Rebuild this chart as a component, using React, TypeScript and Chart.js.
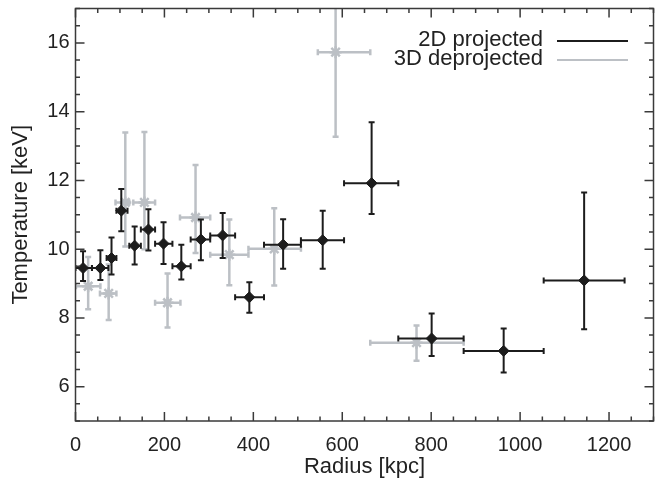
import { useEffect, useRef } from "react";
import { Chart, registerables } from "chart.js";

Chart.register(...registerables);

// ---- 2D projected (black diamonds) ----
const r2d = [17, 56, 81, 103, 133, 164, 198, 238, 282, 331, 391, 467, 556, 666, 801, 963, 1144];
const r2dLo = [0, 37, 70, 92, 121, 147, 179, 218, 259, 303, 359, 424, 507, 604, 726, 873, 1053];
const r2dHi = [37, 74, 92, 117, 147, 179, 218, 259, 303, 359, 424, 507, 604, 726, 873, 1053, 1235];
const t2d = [9.45, 9.45, 9.74, 11.12, 10.1, 10.57, 10.16, 9.5, 10.28, 10.4, 8.6, 10.13, 10.26, 11.92, 7.4, 7.04, 9.09];
const t2dLo = [9.07, 9.1, 9.26, 10.52, 9.55, 9.96, 9.57, 9.12, 9.68, 9.74, 8.15, 9.43, 9.43, 11.02, 6.89, 6.41, 7.67];
const t2dHi = [9.94, 9.97, 10.34, 11.75, 10.66, 11.16, 10.78, 10.13, 10.86, 11.05, 9.04, 10.87, 11.12, 13.69, 8.13, 7.69, 11.65];

// ---- 3D deprojected (grey stars) ----
const r3d = [28.5, 74.6, 112, 155, 207, 270, 346, 447, 585, 767];
const r3dLo = [1, 55, 90, 130, 179, 235, 303, 389, 545, 663];
const r3dHi = [56, 92, 121, 179, 236, 303, 389, 507, 663, 873];
const t3d = [8.92, 8.71, 11.36, 11.36, 8.44, 10.92, 9.84, 10.01, 15.73, 7.28];
const t3dLo = [8.25, 7.94, 10.08, 10.0, 7.72, 9.89, 8.95, 8.94, 13.27, 6.75];
const t3dHi = [9.77, 9.55, 13.39, 13.41, 9.29, 12.45, 10.86, 11.19, 18.5, 7.78];

const xTickLabels = [0, 200, 400, 600, 800, 1000, 1200];
const yTickLabels = [6, 8, 10, 12, 14, 16];
const legendLabels = ["2D projected", "3D deprojected"];

const BLACK = "#1c1c1c";
const GREY = "#bcc0c5";
const FONT = "'Liberation Sans', Arial, Helvetica, sans-serif";

function buildPoints(r: number[], rl: number[], rh: number[], t: number[], tl: number[], th: number[]) {
  return r.map((x, i) => ({ x, y: t[i], xMin: rl[i], xMax: rh[i], yMin: tl[i], yMax: th[i] }));
}

const errorBarPlugin = {
  id: "errorBars",
  beforeDatasetDraw(chart: any, args: any) {
    const ds = chart.data.datasets[args.index];
    const { ctx, chartArea, scales } = chart;
    const xs = scales.x;
    const ys = scales.y;
    const cap = ds.capHalf ?? 3;
    ctx.save();
    ctx.beginPath();
    ctx.rect(chartArea.left, chartArea.top, chartArea.right - chartArea.left, chartArea.bottom - chartArea.top);
    ctx.clip();
    ctx.strokeStyle = ds.barColor;
    ctx.lineWidth = ds.barWidth;
    ctx.lineCap = "butt";
    for (const p of ds.data) {
      const cx = xs.getPixelForValue(p.x);
      const cy = ys.getPixelForValue(p.y);
      const x0 = xs.getPixelForValue(p.xMin);
      const x1 = xs.getPixelForValue(p.xMax);
      const y0 = ys.getPixelForValue(p.yMin);
      const y1 = ys.getPixelForValue(p.yMax);
      ctx.beginPath();
      ctx.moveTo(x0, cy);
      ctx.lineTo(x1, cy);
      ctx.moveTo(cx, y0);
      ctx.lineTo(cx, y1);
      ctx.moveTo(x0, cy - cap);
      ctx.lineTo(x0, cy + cap);
      ctx.moveTo(x1, cy - cap);
      ctx.lineTo(x1, cy + cap);
      ctx.moveTo(cx - cap, y0);
      ctx.lineTo(cx + cap, y0);
      ctx.moveTo(cx - cap, y1);
      ctx.lineTo(cx + cap, y1);
      ctx.stroke();
    }
    ctx.restore();
  },
};

const framePlugin = {
  id: "frame",
  afterDraw(chart: any) {
    const { ctx, chartArea, scales } = chart;
    const { left, right, top, bottom } = chartArea;
    const xs = scales.x;
    const ys = scales.y;
    ctx.save();
    ctx.strokeStyle = "#3a3a3a";
    ctx.lineWidth = 1.5;
    ctx.strokeRect(left, top, right - left, bottom - top);
    ctx.beginPath();
    const major = 9;
    const minor = 4.5;
    for (let v = 0; v <= 1300; v += 50) {
      const len = v % 200 === 0 ? major : minor;
      const px = xs.getPixelForValue(v);
      ctx.moveTo(px, bottom);
      ctx.lineTo(px, bottom - len);
      ctx.moveTo(px, top);
      ctx.lineTo(px, top + len);
    }
    for (let v = 5; v <= 17.001; v += 0.5) {
      const isMajor = Math.abs(v % 2) < 1e-6;
      const len = isMajor ? major : minor;
      const py = ys.getPixelForValue(v);
      ctx.moveTo(left, py);
      ctx.lineTo(left + len, py);
      ctx.moveTo(right, py);
      ctx.lineTo(right - len, py);
    }
    ctx.stroke();

    // legend
    ctx.font = `22px ${FONT}`;
    ctx.fillStyle = "#222";
    ctx.textAlign = "right";
    ctx.textBaseline = "alphabetic";
    const colors = [BLACK, GREY];
    const baselines = [46, 65];
    const lineYs = [41, 60];
    legendLabels.forEach((lab, i) => {
      ctx.fillText(lab, 543, baselines[i]);
      ctx.beginPath();
      ctx.strokeStyle = colors[i];
      ctx.lineWidth = 2.2;
      ctx.moveTo(557, lineYs[i]);
      ctx.lineTo(628, lineYs[i]);
      ctx.stroke();
    });
    ctx.restore();
  },
};

function zeroPad(s: any) {
  s.paddingTop = 0;
  s.paddingBottom = 0;
  s.paddingLeft = 0;
  s.paddingRight = 0;
}

export default function App() {
  const ref = useRef<HTMLCanvasElement | null>(null);

  useEffect(() => {
    if (!ref.current) return;
    const chart = new Chart(ref.current, {
      type: "scatter",
      data: {
        datasets: [
          {
            label: legendLabels[0],
            data: buildPoints(r2d, r2dLo, r2dHi, t2d, t2dLo, t2dHi),
            pointStyle: "rectRot",
            pointRadius: 5.5,
            backgroundColor: BLACK,
            borderColor: BLACK,
            borderWidth: 1,
            barColor: BLACK,
            barWidth: 2,
            capHalf: 3,
          } as any,
          {
            label: legendLabels[1],
            data: buildPoints(r3d, r3dLo, r3dHi, t3d, t3dLo, t3dHi),
            pointStyle: "star",
            pointRadius: 6,
            backgroundColor: GREY,
            borderColor: GREY,
            borderWidth: 2.5,
            barColor: GREY,
            barWidth: 2.5,
            capHalf: 3,
          } as any,
        ],
      },
      options: {
        responsive: false,
        animation: false,
        devicePixelRatio: 1,
        layout: { padding: { top: 7.5, right: 3, left: 0, bottom: 0 } },
        plugins: { legend: { display: false }, tooltip: { enabled: false } },
        scales: {
          x: {
            type: "linear",
            min: 0,
            max: 1300,
            grid: { display: false, drawTicks: false },
            border: { display: false },
            afterBuildTicks: (s: any) => {
              s.ticks = xTickLabels.map((v) => ({ value: v }));
            },
            afterFit: (s: any) => {
              s.height = 62;
              zeroPad(s);
            },
            ticks: {
              font: { family: FONT, size: 20 },
              color: "#222",
              padding: 12,
              maxRotation: 0,
              autoSkip: false,
              callback: (v: any) => String(v),
            },
            title: {
              display: true,
              text: "Radius [kpc]",
              font: { family: FONT, size: 22 },
              color: "#222",
              padding: { top: 0, bottom: 2.5 },
            },
          },
          y: {
            type: "linear",
            min: 5,
            max: 17,
            grid: { display: false, drawTicks: false },
            border: { display: false },
            afterBuildTicks: (s: any) => {
              s.ticks = yTickLabels.map((v) => ({ value: v }));
            },
            afterFit: (s: any) => {
              s.width = 75.5;
              zeroPad(s);
            },
            ticks: {
              font: { family: FONT, size: 20 },
              color: "#222",
              padding: 6,
              autoSkip: false,
              callback: (v: any) => String(v),
            },
            title: {
              display: true,
              text: "Temperature [keV]",
              font: { family: FONT, size: 22 },
              color: "#222",
              padding: { top: 8, bottom: 0 },
            },
          },
        },
      },
      plugins: [errorBarPlugin, framePlugin],
    });
    return () => chart.destroy();
  }, []);

  return (
    <div style={{ position: "fixed", left: 0, top: 0, width: 662, height: 483, background: "#fff" }}>
      <canvas ref={ref} width={662} height={483} style={{ width: 662, height: 483, display: "block" }} />
    </div>
  );
}
